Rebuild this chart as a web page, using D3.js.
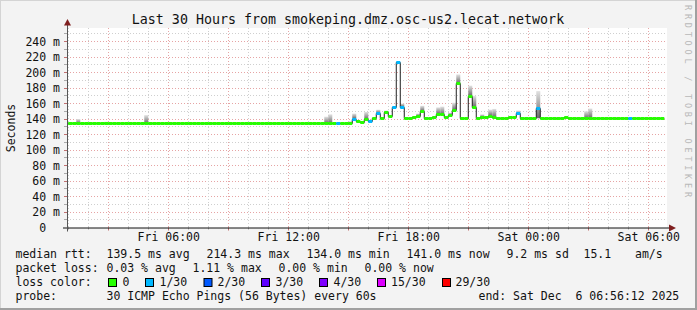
<!DOCTYPE html>
<html><head><meta charset="utf-8">
<script src="https://cdn.jsdelivr.net/npm/d3@7"></script>
<style>html,body{margin:0;padding:0;background:#f3f3f3}svg{display:block}text{font-family:"DejaVu Sans Mono",monospace;white-space:pre}</style>
</head><body>
<script>
// ---- data ----
const title = "Last 30 Hours from smokeping.dmz.osc-us2.lecat.network";
const endTime = Date.UTC(2025, 11, 6, 6, 56, 12);
const firstStep = Date.UTC(2025, 11, 5, 0, 48, 0);
const stepMinutes = 12;
// median RTT (ms) for each 12-minute step
const median = [
 134.2,134.2,134.2,134.2,134.2,134.2,134.2,134.2,134.2,134.2,
 134.2,134.2,134.2,134.2,134.2,134.2,134.2,134.2,134.2,134.2,
 134.2,134.2,134.2,134.2,134.2,134.2,134.2,134.2,134.2,134.2,
 134.2,134.2,134.2,134.2,134.2,134.2,134.2,134.2,134.2,134.2,
 134.2,134.2,134.2,134.2,134.2,134.2,134.2,134.2,134.2,134.2,
 134.2,134.2,134.2,134.2,134.2,134.2,134.2,134.2,134.2,134.2,
 134.2,134.2,134.2,134.2,134.2,134.2,134.2,134.2,134.2,134.2,
 134.2,134.2,140.5,138.0,136.3,139.8,138.0,140.7,147.8,140.7,
 148.4,144.0,155.3,213.8,156.0,140.7,140.7,143.2,144.1,150.2,
 140.7,140.7,142.4,146.7,146.2,142.4,145.8,151.8,186.2,140.7,
 140.7,170.0,155.0,140.7,142.4,142.4,144.1,142.4,141.0,141.0,
 141.0,142.6,142.6,147.6,141.0,141.0,141.0,141.0,153.6,141.0,
 141.0,141.0,141.0,141.0,141.0,142.6,141.0,141.0,141.0,141.0,
 141.0,141.0,141.0,141.0,141.0,141.0,141.0,141.0,141.0,141.0,
 141.0,141.0,141.0,141.0,141.0,141.0,141.0,141.0,141.0,141.0
];
// steps with packet loss (count of lost pings out of 30)
const lossIndex = [68, 72, 76, 78, 82, 83, 84, 113, 118, 141];
const lossCount = [1, 1, 1, 1, 1, 1, 1, 1, 1, 1];
// visible smoke (spread of the pings) per step
const smokeIndex = [3, 10, 20, 65, 66, 71, 72, 75, 78, 80, 84, 88, 89, 93, 94, 96, 97, 98, 101, 102, 104, 106, 107, 113, 118, 130, 131];
const smokeLow  = [134.2,134.2,134.2,134.2,134.2,134.2,140.5,139.8,147.8,148.4,156.0,144.1,150.2,146.7,146.2,145.8,151.8,186.2,170.0,155.0,142.4,144.1,142.4,146.0,141.0,141.0,141.0];
const smokeHigh = [140.0,136.5,145.0,143.0,146.0,137.0,147.0,149.0,152.0,151.0,160.0,147.0,157.0,155.0,156.0,148.0,161.0,197.5,183.0,170.0,146.0,152.0,153.0,151.0,176.0,150.0,153.5];
const yTicks = [0,20,40,60,80,100,120,140,160,180,200,220,240];
const yTickLabels = ["0  ","20 m","40 m","60 m","80 m","100 m","120 m","140 m","160 m","180 m","200 m","220 m","240 m"];
const lossLegendLabels = ["0","1/30","2/30","3/30","4/30","15/30","29/30"];
const lossLegendCounts = [0,1,2,3,4,15,29];
const lossColors = ["#26ff00","#00b8ff","#0059ff","#5e00ff","#7e00ff","#dd00ff","#ff0000"];
const statsRtt = ["median rtt:","139.5 ms avg","214.3 ms max","134.0 ms min","141.0 ms now","9.2 ms sd","15.1","am/s"];
const statsLoss = ["packet loss:","0.03 % avg","1.11 % max","0.00 % min","0.00 % now"];
const probeText = ["probe:","30 ICMP Echo Pings (56 Bytes) every 60s","end: Sat Dec  6 06:56:12 2025"];

// ---- layout ----
const W = 697, H = 310;
const L = 67, R = 667, T = 28, B = 227.5;
const startTime = endTime - 30*3600*1000;

const svg = d3.select("body").append("svg").attr("width", W).attr("height", H);
svg.append("rect").attr("width", W).attr("height", H).attr("fill", "#f3f3f3");
// 3D border
svg.append("rect").attr("x",0).attr("y",0).attr("width",W).attr("height",1).attr("fill","#d4d4d4");
svg.append("rect").attr("x",0).attr("y",0).attr("width",1).attr("height",H).attr("fill","#d4d4d4");
svg.append("rect").attr("x",W-2).attr("y",0).attr("width",2).attr("height",H).attr("fill","#a0a0a0");
svg.append("rect").attr("x",0).attr("y",H-2).attr("width",W).attr("height",2).attr("fill","#a0a0a0");

const x = d3.scaleUtc().domain([startTime, endTime]).range([L, R]);
const y = d3.scaleLinear().domain([0, (B - T) / 0.775]).range([B, T]);

svg.append("rect").attr("x", L).attr("y", T).attr("width", R - L).attr("height", B - T + 0.5).attr("fill", "#fff");

const defs = svg.append("defs");
defs.append("clipPath").attr("id","clip").append("rect").attr("x",L).attr("y",T).attr("width",R-L).attr("height",B-T+1);
const grad = defs.append("linearGradient").attr("id","smoke").attr("x1",0).attr("x2",0).attr("y1",0).attr("y2",1);
grad.append("stop").attr("offset","0%").attr("stop-color","#e2e2e2");
grad.append("stop").attr("offset","100%").attr("stop-color","#6a6a6a");

// grid
const hours = d3.utcHour.every(1).range(new Date(startTime), new Date(endTime));
const grid = svg.append("g");
const px = v => Math.round(v) + 0.5;
const yMinor = d3.range(10, 260, 10);
yMinor.forEach(v => {
  const major = v % 20 === 0;
  if (y(v) < T) return;
  grid.append("line").attr("x1", L).attr("x2", R).attr("y1", Math.floor(y(v)) + 0.5).attr("y2", Math.floor(y(v)) + 0.5)
    .attr("stroke", major ? "#e6a4a4" : "#cfcfcf").attr("stroke-dasharray", "1,2");
  grid.append("line").attr("x1", L - 3).attr("x2", L).attr("y1", Math.floor(y(v)) + 0.5).attr("y2", Math.floor(y(v)) + 0.5)
    .attr("stroke", major ? "#c07070" : "#aaa");
});
hours.forEach(h => {
  const major = h.getUTCHours() % 3 === 0;
  const xx = px(x(h));
  grid.append("line").attr("x1", xx).attr("x2", xx).attr("y1", T).attr("y2", B)
    .attr("stroke", major ? "#e6a4a4" : "#cfcfcf").attr("stroke-dasharray", "1,2");
  grid.append("line").attr("x1", xx).attr("x2", xx).attr("y1", B).attr("y2", B + (major ? 3 : 2))
    .attr("stroke", major ? "#c07070" : "#aaa");
});

// data layer
const plot = svg.append("g").attr("clip-path", "url(#clip)");
const t0 = k => firstStep + k * stepMinutes * 60000;
const t1 = k => firstStep + (k + 1) * stepMinutes * 60000;

smokeIndex.forEach((k, i) => {
  plot.append("rect").attr("x", x(t0(k))).attr("width", x(t1(k)) - x(t0(k)))
    .attr("y", y(smokeHigh[i])).attr("height", Math.max(0, y(smokeLow[i]) - y(smokeHigh[i])))
    .attr("fill", "url(#smoke)");
});

const pts = median.map((v, k) => [t0(k), v]);
pts.push([t1(median.length - 1), median[median.length - 1]]);
plot.append("path").attr("d", d3.line().x(d => x(d[0])).y(d => Math.round(y(d[1])) + 0.5).curve(d3.curveStepAfter)(pts))
  .attr("fill", "none").attr("stroke", "#202020").attr("stroke-width", 1);

const lossOf = k => { const i = lossIndex.indexOf(k); return i < 0 ? 0 : lossCount[i]; };
const colorOf = n => { let c = lossColors[0]; lossLegendCounts.forEach((lc, i) => { if (n >= lc && lc > 0) c = lossColors[i]; }); return n === 0 ? lossColors[0] : c; };
median.forEach((v, k) => {
  plot.append("rect").attr("x", x(t0(k))).attr("width", x(t1(k)) - x(t0(k)))
    .attr("y", Math.round(y(v)) - 1).attr("height", 3).attr("fill", colorOf(lossOf(k)));
});

// axes
svg.append("line").attr("x1", L - 4).attr("x2", R + 3).attr("y1", B + 0.5).attr("y2", B + 0.5).attr("stroke", "#111");
svg.append("line").attr("x1", L + 0.5).attr("x2", L + 0.5).attr("y1", B + 4).attr("y2", T - 3).attr("stroke", "#555");
svg.append("path").attr("d", `M${L - 3},${T - 2.5}L${L + 4},${T - 2.5}L${L + 0.5},${T - 9}Z`).attr("fill", "#7f1f1f");
svg.append("path").attr("d", `M${R + 2},${B - 3}L${R + 2},${B + 4}L${R + 9},${B + 0.5}Z`).attr("fill", "#7f1f1f");

// y labels
yTicks.forEach((v, i) => {
  svg.append("text").attr("x", 60).attr("y", y(v) + 4).attr("text-anchor", "end").attr("font-size", "11.5px").attr("fill", "#111").text(yTickLabels[i]);
});
svg.append("text").attr("transform", `translate(15,128) rotate(-90)`).attr("text-anchor", "middle").attr("font-size", "11.5px").attr("fill", "#111").text("Seconds");

// x labels
const fmt = d3.utcFormat("%a %H:%M");
d3.utcHour.every(6).range(new Date(startTime), new Date(endTime)).forEach(h => {
  svg.append("text").attr("x", x(h) + 0.5).attr("y", 241).attr("text-anchor", "middle").attr("font-size", "11.5px").attr("fill", "#111").text(fmt(h));
});

// title & watermark
svg.append("text").attr("x", 348).attr("y", 24).attr("text-anchor", "middle").attr("font-size", "13.3px").attr("fill", "#111").text(title);
svg.append("text").attr("transform", "translate(684.5,5) rotate(90)").attr("font-size", "8.5px").attr("fill", "#b8b8b8")
  .attr("textLength", 192).attr("lengthAdjust", "spacing").text("RRDTOOL / TOBI OETIKER");

// legend
const lg = svg.append("g").attr("font-size", "11.5px").attr("fill", "#111");
const line = (arr, xs, yy) => arr.forEach((s, i) => lg.append("text").attr("x", xs[i]).attr("y", yy).text(s));
line(statsRtt, [15.5, 106.5, 206.5, 306.5, 406.5, 506.5, 583.5, 635], 258);
line(statsLoss, [15.5, 106.5, 192.5, 278.5, 364.5], 272);
lg.append("text").attr("x", 15.5).attr("y", 286).text("loss color:");
const boxX = [108, 145, 203.5, 261, 319, 377, 442];
const labX = [122.5, 159.5, 217.5, 275.5, 333.5, 391, 455.5];
lossLegendLabels.forEach((s, i) => {
  lg.append("rect").attr("x", boxX[i] + 0.5).attr("y", 278.5).attr("width", 8).attr("height", 8).attr("fill", lossColors[i]).attr("stroke", "#000");
  lg.append("text").attr("x", labX[i]).attr("y", 286).text(s);
});
line(probeText, [15.5, 106.5, 478.5], 300);
</script>
</body></html>
